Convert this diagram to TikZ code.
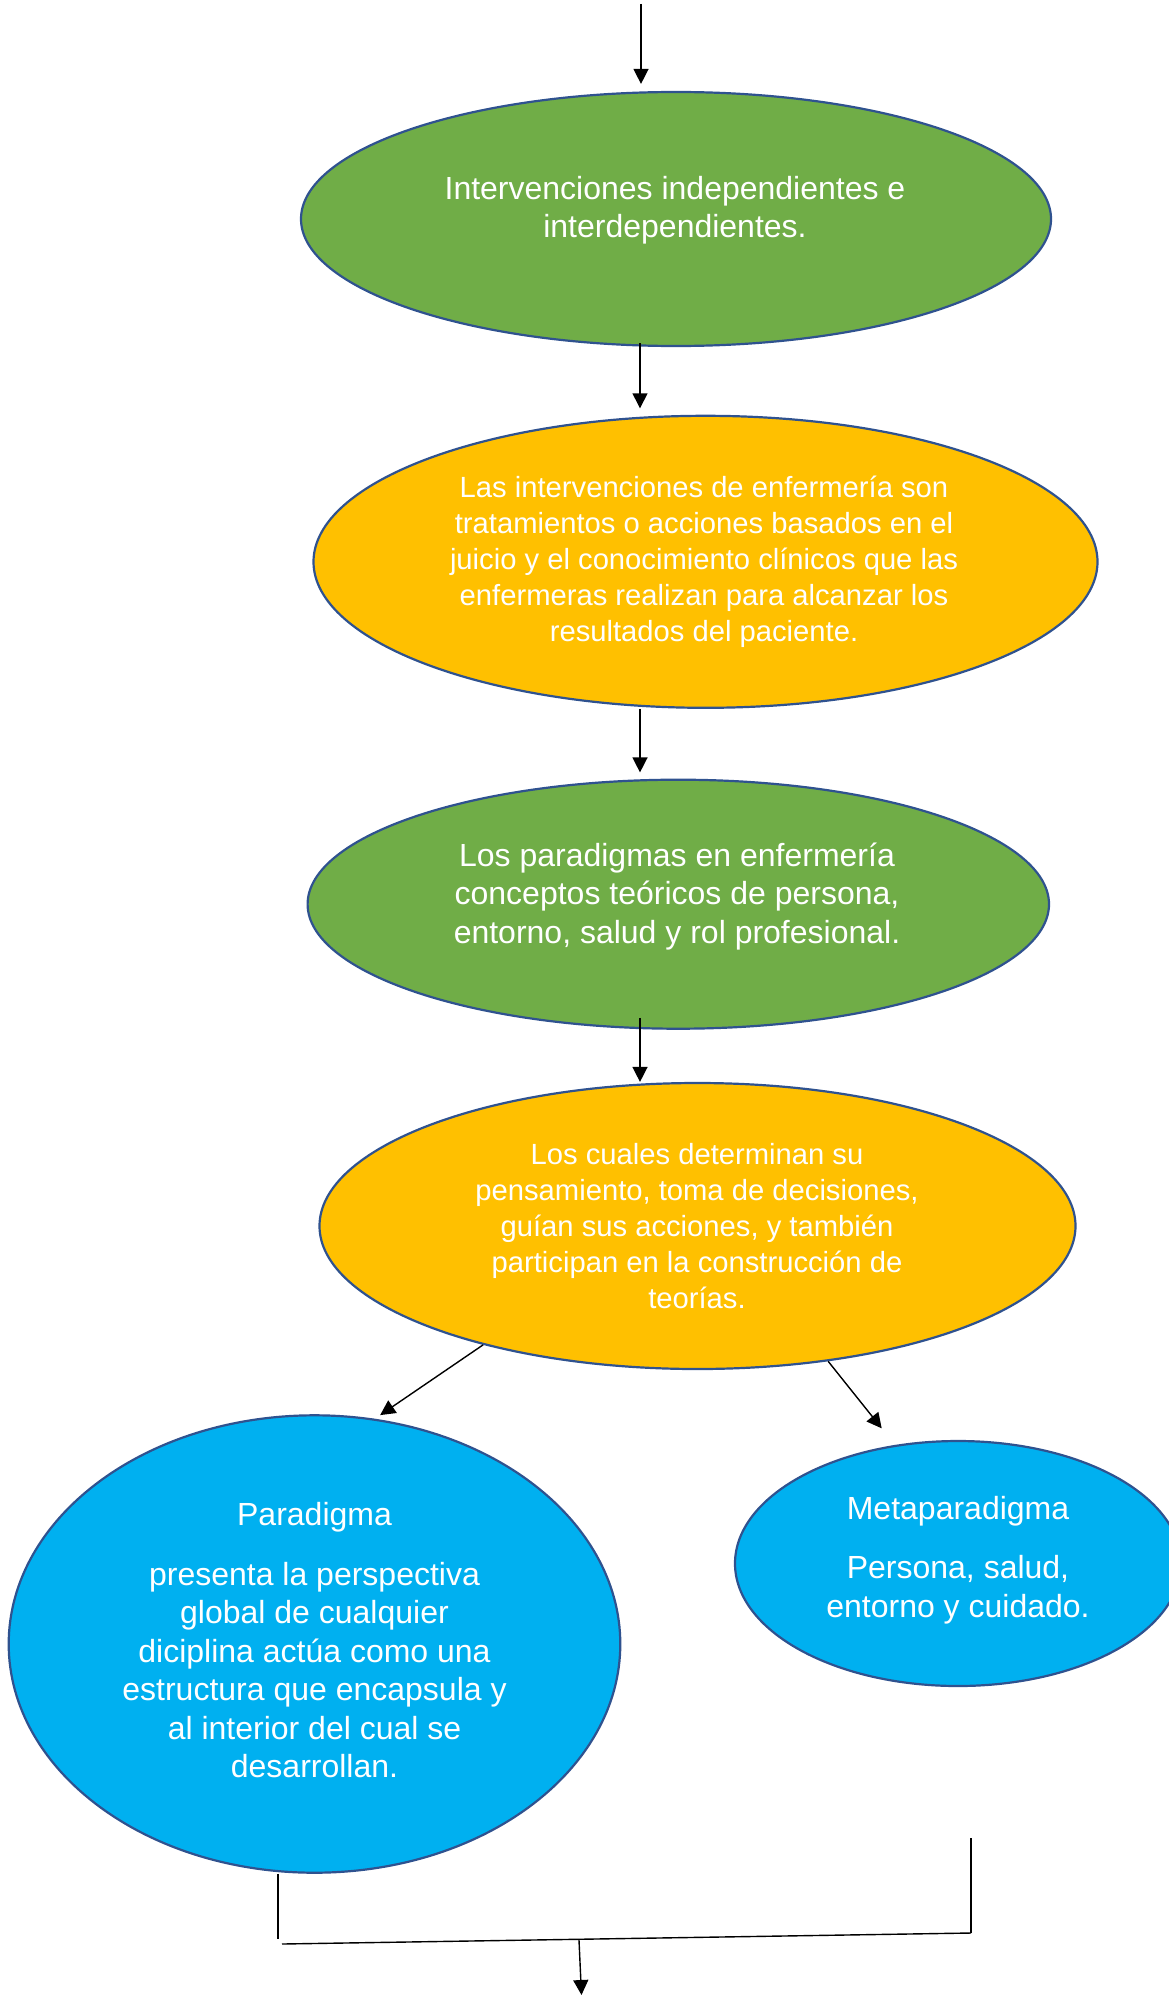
\documentclass[tikz,border=0pt]{standalone}
\usepackage{fontspec}
\setmainfont{Liberation Sans}
\usepackage{tikz}
\usepackage{color}
\usetikzlibrary{shapes.geometric,arrows.meta}
\definecolor{verdecl}{RGB}{112,173,71}
\definecolor{amarillo}{RGB}{255,192,0}
\definecolor{celeste}{RGB}{0,176,240}
\definecolor{contorno}{RGB}{47,82,143}

\begin{document}
\begin{tikzpicture}[x=0.5pt,y=-0.5pt,
  elipse/.style={ellipse,draw=contorno,line width=1.1pt,inner sep=0pt},
  texto/.style={text=white,align=center,font=\fontsize{16}{19.25}\selectfont},
  textoam/.style={text=white,align=center,font=\fontsize{14.6}{18}\selectfont},
  flecha/.style={line width=0.7pt,-{Triangle[length=7.5pt,width=7.5pt]}},
  linea/.style={line width=0.7pt}]
  \useasboundingbox (0,0) rectangle (1168,1996);
  \node (inter) at (676,219)[elipse,fill=verdecl,minimum width=375pt,minimum height=127pt]{};
           \node (cuida) at (705.5,561.8)[elipse,fill=amarillo,minimum width=392pt,minimum height=146pt]{};
                    \node (parad) at (678.3,904.2)[elipse,fill=verdecl,minimum width=370.7pt,minimum height=124.5pt]{};
         \node (cuales) at (697.5,1226)[elipse,fill=amarillo,minimum width=378pt,minimum height=143pt]{};
         \node (paradigma) at (314.5,1644)[elipse,fill=celeste,minimum width=305.8pt,minimum height=228.7pt]{};
         \node (meta) at (958,1563.5)[elipse,fill=celeste,minimum width=223pt,minimum height=122.5pt]{};
  \node (tinter) at (675,210)[texto]{Intervenciones independientes e\\interdependientes.};
  \node (tcuida) at (704,562)[textoam]{Las intervenciones de enfermería son\\tratamientos o acciones basados en el\\juicio y el conocimiento clínicos que las\\enfermeras realizan para alcanzar los\\resultados del paciente.};
  \node (tparad) at (677,896.5)[texto]{Los paradigmas en enfermería\\conceptos teóricos de persona,\\entorno, salud y rol profesional.};
  \node (tcuales) at (697,1226)[textoam]{Los cuales determinan su\\pensamiento, toma de decisiones,\\guían sus acciones, y también\\participan en la construcción de\\teorías.};
  \node (tparadigma) at (314.5,1640.3)[texto]{Paradigma\\[10.5pt]presenta la perspectiva\\global de cualquier\\diciplina actúa como una\\estructura que encapsula y\\al interior del cual se\\desarrollan.};
  \node (tmeta) at (958,1560)[texto]{Metaparadigma\\[10.5pt]Persona, salud,\\entorno y cuidado.};
  \coordinate (eje) at (640,0);
  \coordinate (inicio) at (641,4);
         \draw [flecha,shorten >=3.5pt] (inicio) -- (inter.north -| inicio);
         \draw [flecha,shorten <=-2pt,shorten >=3.2pt] (inter.south -| eje) -- (cuida.north -| eje);
         \draw [flecha,shorten >=3.1pt] (cuida.south -| eje) -- (parad.north -| eje);
         \draw [flecha,shorten <=-6pt] (parad.south -| eje) -- (cuales.north -| eje);
         \draw [flecha,shorten >=3.2pt] (cuales.209) -- (paradigma.75);
         \draw [flecha,shorten >=10.6pt] (cuales.314) -- (meta.118);
  \coordinate (codoizq) at (278,1939);
  \coordinate (hizq) at (282,1944);
  \coordinate (hder) at (971,1933);
  \coordinate (vder) at (971,1838);
  \coordinate (punta) at (581.5,1995);
         \draw [linea] (paradigma.south -| codoizq) -- (codoizq);
         \draw [linea] (hizq) -- coordinate[pos=0.431] (baja) (hder);
         \draw [linea] (vder) -- (hder);
         \draw [flecha] (baja) -- (punta);
    \end{tikzpicture}
\end{document}
